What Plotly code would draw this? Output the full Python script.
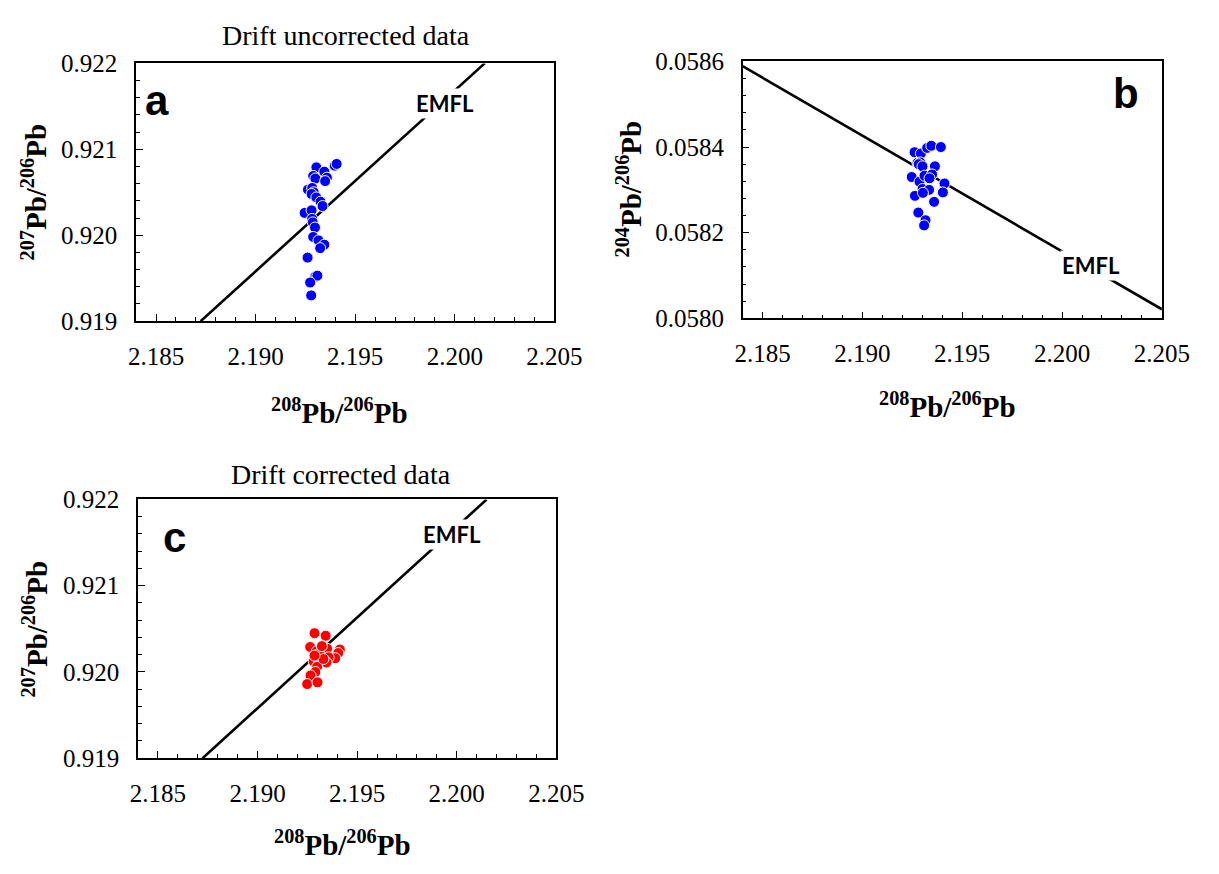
import plotly.graph_objects as go

W, H = 1219, 874

# ---- data -------------------------------------------------------------
# (a) drift-uncorrected 207Pb/206Pb vs 208Pb/206Pb
a_x = [2.19305, 2.19345, 2.19289, 2.19300, 2.19358, 2.19349, 2.19397, 2.19407,
       2.19263, 2.19284, 2.19292, 2.19281, 2.19305, 2.19326, 2.19336, 2.19246,
       2.19281, 2.19284, 2.19287, 2.19298, 2.19289, 2.19316, 2.19345, 2.19324,
       2.19261, 2.19300, 2.19310, 2.19274, 2.19279]
a_y = [0.92079, 0.92074, 0.92069, 0.92066, 0.92067, 0.92063, 0.92081, 0.92083,
       0.92053, 0.92055, 0.92050, 0.92048, 0.92044, 0.92039, 0.92034, 0.92026,
       0.92029, 0.92019, 0.92015, 0.92009, 0.91998, 0.91994, 0.91989, 0.91985,
       0.91974, 0.91952, 0.91953, 0.91945, 0.91930]

# (b) drift-uncorrected 204Pb/206Pb vs 208Pb/206Pb
b_x = [2.19261, 2.19293, 2.19324, 2.19345, 2.19393, 2.19276, 2.19290, 2.19282,
       2.19301, 2.19363, 2.19247, 2.19286, 2.19311, 2.19349, 2.19336, 2.19411,
       2.19301, 2.19334, 2.19403, 2.19263, 2.19359, 2.19280, 2.19316, 2.19309,
       2.19303]
b_y = [0.058388, 0.058385, 0.058398, 0.058403, 0.058400, 0.058363, 0.058364,
       0.058360, 0.058355, 0.058355, 0.058330, 0.058319, 0.058333, 0.058336,
       0.058327, 0.058315, 0.058302, 0.058300, 0.058294, 0.058286, 0.058272,
       0.058247, 0.058229, 0.058217, 0.058293]

# (c) drift-corrected 207Pb/206Pb vs 208Pb/206Pb
c_x = [2.19286, 2.19342, 2.19264, 2.19322, 2.19349, 2.19297, 2.19309, 2.19413,
       2.19405, 2.19390, 2.19357, 2.19282, 2.19309, 2.19346, 2.19299, 2.19290,
       2.19266, 2.19249, 2.19301, 2.19331, 2.19286, 2.19323]
c_y = [0.92045, 0.92042, 0.92029, 0.92027, 0.92027, 0.92024, 0.92021, 0.92026,
       0.92022, 0.92016, 0.92017, 0.92012, 0.92011, 0.92011, 0.92006, 0.92000,
       0.91996, 0.91986, 0.91988, 0.92015, 0.92019, 0.92030]

# exponential mass fractionation lines (end points)
emfl_207_x = [2.18724, 2.20150]
emfl_207_y = [0.919, 0.922]
emfl_204_x = [2.184, 2.205]
emfl_204_y = [0.058589, 0.058021]

# axis ranges and ticks
x_range = [2.184, 2.205]
x_ticks = [2.185, 2.190, 2.195, 2.200, 2.205]
x_tick_text = ["2.185", "2.190", "2.195", "2.200", "2.205"]
y207_range = [0.919, 0.922]
y207_ticks = [0.919, 0.920, 0.921, 0.922]
y207_tick_text = ["0.919", "0.920", "0.921", "0.922"]
y204_range = [0.0580, 0.0586]
y204_ticks = [0.0580, 0.0582, 0.0584, 0.0586]
y204_tick_text = ["0.0580", "0.0582", "0.0584", "0.0586"]

# ---- layout helpers (pixel frames of each panel) ----------------------
FA = dict(l=132, r=563, t=52, b=318)
FB = dict(l=757, r=1189, t=50, b=315)
FC = dict(l=134, r=565, t=502, b=769)


def dom_x(f):
    return [f["l"] / W, f["r"] / W]


def dom_y(f):
    return [1 - f["b"] / H, 1 - f["t"] / H]


SERIF = "Liberation Serif"
SANS = "Lato"

axis_common = dict(
    showline=True, linecolor="black", linewidth=1.5, mirror=True,
    ticks="inside", ticklen=7, tickwidth=1.3, tickcolor="black",
    showgrid=False, zeroline=False,
    tickfont=dict(family=SERIF, size=25, color="black"),
    ticklabelstandoff=12,
)


def xaxis_for(f, anchor):
    return dict(
        axis_common, domain=dom_x(f), anchor=anchor, range=x_range,
        tickmode="array", tickvals=x_ticks, ticktext=x_tick_text,
        minor=dict(ticks="inside", ticklen=4, tickwidth=1.1, tickcolor="black",
                   tick0=2.184, dtick=0.001, showgrid=False),
    )


def yaxis_for(f, anchor, rng, vals, text, minor_step):
    return dict(
        axis_common, domain=dom_y(f), anchor=anchor, range=rng,
        tickmode="array", tickvals=vals, ticktext=text,
        minor=dict(ticks="inside", ticklen=4, tickwidth=1.1, tickcolor="black",
                   tick0=rng[0], dtick=minor_step, showgrid=False),
    )


fig = go.Figure()


def add_panel(xs, ys, color, lx, ly, xa, ya):
    fig.add_trace(go.Scatter(
        x=lx, y=ly, mode="lines", line=dict(color="black", width=2.6),
        xaxis=xa, yaxis=ya, showlegend=False, hoverinfo="skip"))
    fig.add_trace(go.Scatter(
        x=xs, y=ys, mode="markers",
        marker=dict(color=color, size=11, line=dict(color="white", width=1)),
        xaxis=xa, yaxis=ya, showlegend=False))


add_panel(a_x, a_y, "#0000FF", emfl_207_x, emfl_207_y, "x", "y")
add_panel(b_x, b_y, "#0000FF", emfl_204_x, emfl_204_y, "x2", "y2")
add_panel(c_x, c_y, "#FF0000", emfl_207_x, emfl_207_y, "x3", "y3")

fig.update_layout(
    width=W, height=H, margin=dict(l=0, r=0, t=0, b=0),
    paper_bgcolor="white", plot_bgcolor="white",
    font=dict(family=SERIF, size=25, color="black"),
    xaxis=xaxis_for(FA, "y"),
    yaxis=yaxis_for(FA, "x", y207_range, y207_ticks, y207_tick_text, 0.0002),
    xaxis2=xaxis_for(FB, "y2"),
    yaxis2=yaxis_for(FB, "x2", y204_range, y204_ticks, y204_tick_text, 0.00004),
    xaxis3=xaxis_for(FC, "y3"),
    yaxis3=yaxis_for(FC, "x3", y207_range, y207_ticks, y207_tick_text, 0.0002),
)


def note(text, px, py, font, angle=0, bg=None):
    fig.add_annotation(
        text=text, x=px / W, y=1 - py / H, xref="paper", yref="paper",
        xanchor="center", yanchor="middle", showarrow=False, textangle=angle,
        font=font, bgcolor=bg, borderpad=1)


x_title = "<b><sup>208</sup>Pb/<sup>206</sup>Pb</b>"
y207_title = "<b><sup>207</sup>Pb/<sup>206</sup>Pb</b>"
y204_title = "<b><sup>204</sup>Pb/<sup>206</sup>Pb</b>"
title_font = dict(family=SERIF, size=29, color="black")
head_font = dict(family=SERIF, size=28, color="black")
letter_font = dict(family="Liberation Sans", size=42, color="black")
emfl_font = dict(family=SANS, size=22, color="black")

# panel a
note("Drift uncorrected data", 348, 23, head_font)
note(x_title, 342, 411, title_font)
note(y207_title, 27, 185, title_font, angle=-90)
note("<b>a</b>", 154, 90, letter_font)
note("<b>EMFL</b>", 450, 93, emfl_font, bg="white")

# panel b
note(x_title, 968, 405, title_font)
note(y204_title, 640, 182, title_font, angle=-90)
note("<b>b</b>", 1152, 83, letter_font)
note("<b>EMFL</b>", 1116, 261, emfl_font, bg="white")

# panel c
note("Drift corrected data", 343, 476, head_font)
note(x_title, 345, 856, title_font)
note(y207_title, 28, 636, title_font, angle=-90)
note("<b>c</b>", 172, 541, letter_font)
note("<b>EMFL</b>", 458, 538, emfl_font, bg="white")

fig.write_html("out.html")
